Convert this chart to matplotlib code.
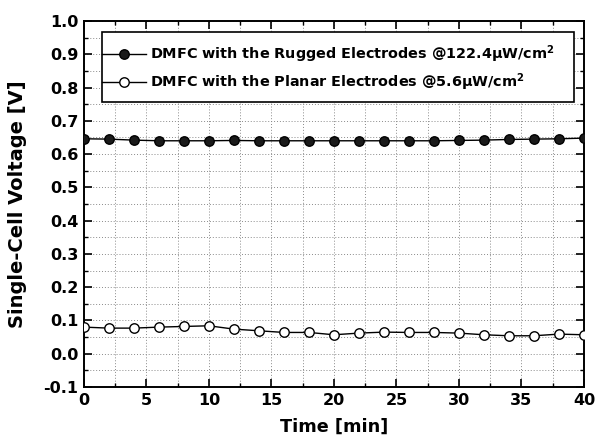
import matplotlib
matplotlib.use("Agg")
import matplotlib.pyplot as plt
from matplotlib.ticker import MultipleLocator, FormatStrFormatter
from matplotlib.patches import Rectangle

plt.rcParams['font.family'] = ['DejaVu Sans']
plt.rcParams['font.weight'] = 'bold'
plt.rcParams['mathtext.default'] = 'bf'

time_min = [0, 2, 4, 6, 8, 10, 12, 14, 16, 18, 20, 22, 24, 26, 28, 30, 32, 34, 36, 38, 40]
rugged_v = [0.646, 0.645, 0.642, 0.640, 0.640, 0.640, 0.641, 0.640, 0.640, 0.640, 0.640,
            0.640, 0.640, 0.640, 0.640, 0.641, 0.642, 0.644, 0.645, 0.646, 0.648]
planar_v = [0.080, 0.077, 0.077, 0.080, 0.082, 0.084, 0.074, 0.069, 0.064, 0.064, 0.057,
            0.062, 0.065, 0.064, 0.064, 0.062, 0.057, 0.054, 0.054, 0.059, 0.057]
label_rugged = "DMFC with the Rugged Electrodes @122.4\u03bcW/cm$^2$"
label_planar = "DMFC with the Planar Electrodes @5.6\u03bcW/cm$^2$"

fig = plt.figure(figsize=(5.95, 4.42), dpi=100)
ax = fig.add_axes([0.141, 0.1244, 0.8405, 0.8281])

ax.plot(time_min, rugged_v, '-o', color='black', lw=1.0, ms=6.8,
        markerfacecolor='#1a1a1a', markeredgecolor='black', label=label_rugged, zorder=3)
ax.plot(time_min, planar_v, '-o', color='black', lw=1.0, ms=6.8,
        markerfacecolor='white', markeredgecolor='black', label=label_planar, zorder=3)

ax.set_xlim(0, 40)
ax.set_ylim(-0.1, 1.0)
ax.xaxis.set_major_locator(MultipleLocator(5))
ax.xaxis.set_minor_locator(MultipleLocator(2.5))
ax.yaxis.set_major_locator(MultipleLocator(0.1))
ax.yaxis.set_minor_locator(MultipleLocator(0.05))
ax.yaxis.set_major_formatter(FormatStrFormatter('%.1f'))

ax.grid(True, which='both', linestyle=(0, (1, 2)), color='#8a8a8a', linewidth=0.7)
ax.set_axisbelow(True)

ax.tick_params(which='both', direction='in', top=True, right=True, labelsize=11.5)
ax.tick_params(which='major', length=6, width=1.2, pad=4)
ax.tick_params(which='minor', length=3, width=1.0)
for lab in ax.get_xticklabels() + ax.get_yticklabels():
    lab.set_fontweight('bold')
for sp in ax.spines.values():
    sp.set_linewidth(1.4)

ax.set_xlabel('Time [min]', fontsize=12.7, fontweight='bold')
ax.set_ylabel('Single-Cell Voltage [V]', fontsize=14, fontweight='bold')
ax.xaxis.set_label_coords(0.5, -0.085)
ax.yaxis.set_label_coords(-0.114, 0.5)

frame = Rectangle((0.036, 0.779), 0.944, 0.191, transform=ax.transAxes,
                  facecolor='white', edgecolor='black', linewidth=1.2, zorder=4)
ax.add_patch(frame)

leg = ax.legend(loc='upper left', bbox_to_anchor=(0.037, 0.94),
                handlelength=3.0, handletextpad=0.3, borderaxespad=0,
                borderpad=0, labelspacing=0.45, frameon=False,
                prop={'weight': 'bold', 'size': 10.4})
leg.set_zorder(5)

fig.savefig('out.png', dpi=100)
